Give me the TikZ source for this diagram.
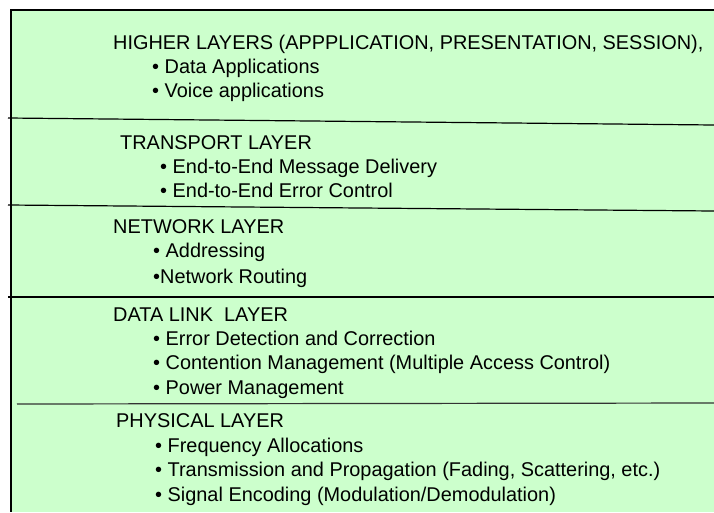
\documentclass[tikz,border=0pt]{standalone}
\usepackage{fontspec}
\setmainfont{Liberation Sans}
\begin{document}
\begin{tikzpicture}[x=1pt,y=-1pt,
  txt/.style={anchor=base west,inner sep=0pt,font=\fontsize{19.9}{23}\selectfont},
  sep/.style={line width=1.2pt,draw=black}]
\useasboundingbox (0,0) rectangle (714,512);
% green panel
\fill[green!20] (11,10) rectangle (714,512);
\draw[line width=1.2pt] (714,10) -- (11,10) -- (11,512);
% layer separators
\draw[sep] (8,118) -- (714,125);
\draw[sep] (8,205) -- (714,211);
\draw[sep] (8,297) -- (714,297);
\draw[sep,draw=black!80] (17,404) -- (714,403);
% higher layers
\node[txt] (h)  at (113,49) {HIGHER LAYERS (APPPLICATION, PRESENTATION, SESSION),};
\node[txt] (h1) at (152,73) {• Data Applications};
\node[txt] (h2) at (152,97) {• Voice applications};
% transport
\node[txt] (t)  at (120,149) {TRANSPORT LAYER};
\node[txt] (t1) at (160,173) {• End-to-End Message Delivery};
\node[txt] (t2) at (160,197) {• End-to-End Error Control};
% network
\node[txt] (n)  at (113,233) {NETWORK LAYER};
\node[txt] (n1) at (153,257) {• Addressing};
\node[txt] (n2) at (153,283) {•Network Routing};
% data link
\node[txt] (d)  at (113,321) {DATA LINK\ \ LAYER};
\node[txt] (d1) at (153,345) {• Error Detection and Correction};
\node[txt] (d2) at (153,369) {• Contention Management (Multiple Access Control)};
\node[txt] (d3) at (153,394) {• Power Management};
% physical
\node[txt] (p)  at (116,427) {PHYSICAL LAYER};
\node[txt] (p1) at (155,452) {• Frequency Allocations};
\node[txt] (p2) at (155,476) {• Transmission and Propagation (Fading, Scattering, etc.)};
\node[txt] (p3) at (155,501) {• Signal Encoding (Modulation/Demodulation)};
\end{tikzpicture}
\end{document}
